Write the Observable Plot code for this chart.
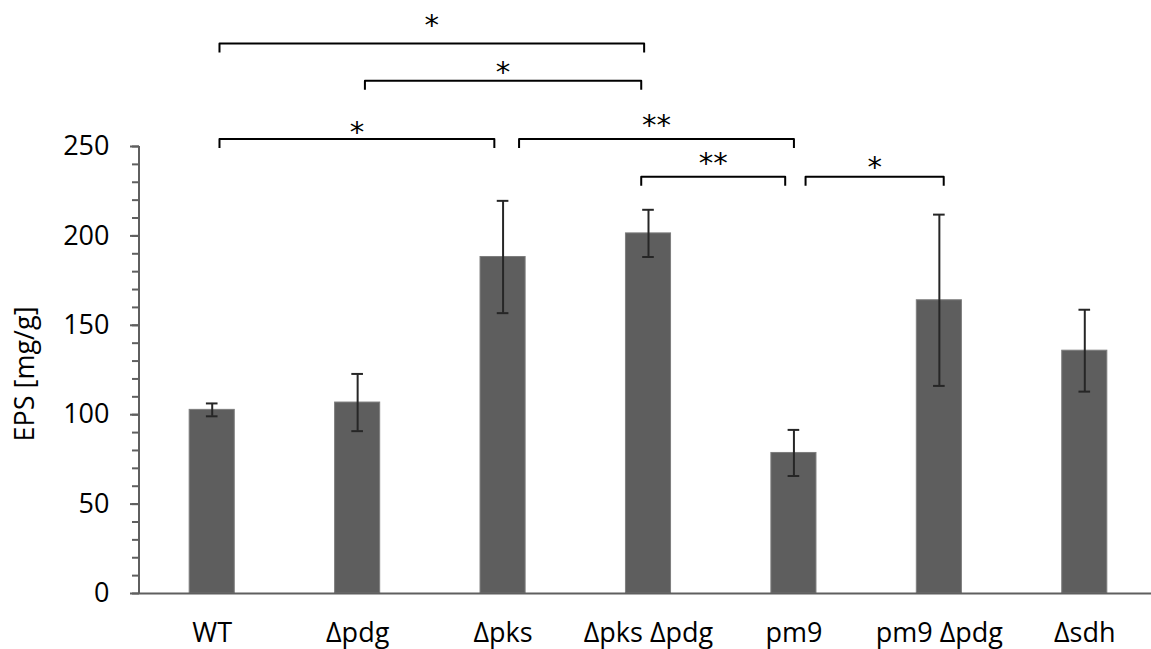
<!DOCTYPE html>
<html>
<head>
<meta charset="utf-8">
<script src="https://cdn.jsdelivr.net/npm/d3@7"></script>
<script src="https://cdn.jsdelivr.net/npm/@observablehq/plot@0.6"></script>
<style>
  html, body { margin: 0; padding: 0; background: #ffffff; }
  #chart svg { display: block; }
</style>
</head>
<body>
<div id="chart"></div>
<script>
// ---- data ----
const categories = ["WT", "Δpdg", "Δpks", "Δpks Δpdg", "pm9", "pm9 Δpdg", "Δsdh"];
const means = [102.7, 106.8, 188.2, 201.4, 78.6, 164.0, 135.8];
const errors = [3.6, 16.0, 31.4, 13.2, 12.9, 47.9, 22.9];
const yTicks = [0, 50, 100, 150, 200, 250];
const yMinorTicks = d3.range(0, 251, 10);
const yLabel = "EPS [mg/g]";

// significance brackets (x in category-index units, y in data units)
const bracketFrom = [0.05, 1.05, 0.05, 2.11, 2.95, 4.08];
const bracketTo = [2.97, 2.95, 1.94, 4.00, 3.94, 5.03];
const bracketLevel = [307.6, 286.8, 254.2, 254.2, 233.1, 233.1];
const starLevel = [318.7, 292.9, 258.9, 263.0, 241.8, 239.3];
const bracketLabel = ["*", "*", "*", "**", "**", "*"];

// ---- tables built from the arrays ----
const bars = categories.map((c, i) => ({i, name: c, v: means[i], e: errors[i]}));
const legDrop = 5;
const bracketPts = [];
bracketFrom.forEach((x1, k) => {
  const x2 = bracketTo[k], y = bracketLevel[k];
  bracketPts.push({id: k, x: x1, y: y - legDrop});
  bracketPts.push({id: k, x: x1, y: y});
  bracketPts.push({id: k, x: x2, y: y});
  bracketPts.push({id: k, x: x2, y: y - legDrop});
});
const stars = bracketLabel.map((s, k) => ({s, x: (bracketFrom[k] + bracketTo[k]) / 2, y: starLevel[k]}));

const halfBar = 0.155;
const halfCap = 0.04;
const axisColor = "#5f5f5f";

const chart = Plot.plot({
  width: 1151,
  height: 649,
  marginLeft: 139,
  marginRight: 0,
  marginTop: 146,
  marginBottom: 56,
  style: {fontFamily: "'Open Sans', sans-serif", background: "#ffffff", color: "#000"},
  x: {type: "linear", domain: [-0.5, 6.5], range: [139, 1157], axis: null},
  y: {domain: [0, 250], axis: null},
  marks: [
    Plot.rectY(bars, {x1: d => d.i - halfBar, x2: d => d.i + halfBar, y1: 0, y2: "v", fill: "#5e5e5e", stroke: "#7d7d7d", strokeWidth: 1}),
    Plot.ruleX(bars, {x: "i", y1: d => d.v - d.e, y2: d => d.v + d.e, stroke: "#262626", strokeWidth: 2}),
    Plot.ruleY(bars, {y: d => d.v + d.e, x1: d => d.i - halfCap, x2: d => d.i + halfCap, stroke: "#262626", strokeWidth: 2}),
    Plot.ruleY(bars, {y: d => d.v - d.e, x1: d => d.i - halfCap, x2: d => d.i + halfCap, stroke: "#262626", strokeWidth: 2}),
    Plot.ruleY([0], {stroke: axisColor, strokeWidth: 2}),
    Plot.ruleX([-0.5], {stroke: axisColor, strokeWidth: 2, dx: -0.5}),
    Plot.axisY(yMinorTicks, {anchor: "left", tickSize: 7, strokeWidth: 2, stroke: axisColor, tickFormat: () => "", label: null}),
    Plot.axisY(yTicks, {anchor: "left", tickSize: 9, tickPadding: 21, strokeWidth: 2, stroke: axisColor, fill: "#000", fontSize: 27, label: null}),
    Plot.axisX(d3.range(categories.length), {anchor: "bottom", tickSize: 0, tickPadding: 29, fontSize: 27, fill: "#000", tickFormat: i => categories[i], label: null}),
    Plot.text([yLabel], {frameAnchor: "left", textAnchor: "middle", dx: -114, dy: 4, rotate: -90, fontSize: 27, fill: "#000"}),
    Plot.line(bracketPts, {x: "x", y: "y", z: "id", stroke: "#000", strokeWidth: 2, strokeLinejoin: "round", strokeLinecap: "butt"}),
    Plot.text(stars, {x: "x", y: "y", text: "s", fontSize: 29, fontFamily: "DejaVu Sans", fill: "#000", dy: 2.5})
  ]
});
document.getElementById("chart").appendChild(chart);
</script>
</body>
</html>
